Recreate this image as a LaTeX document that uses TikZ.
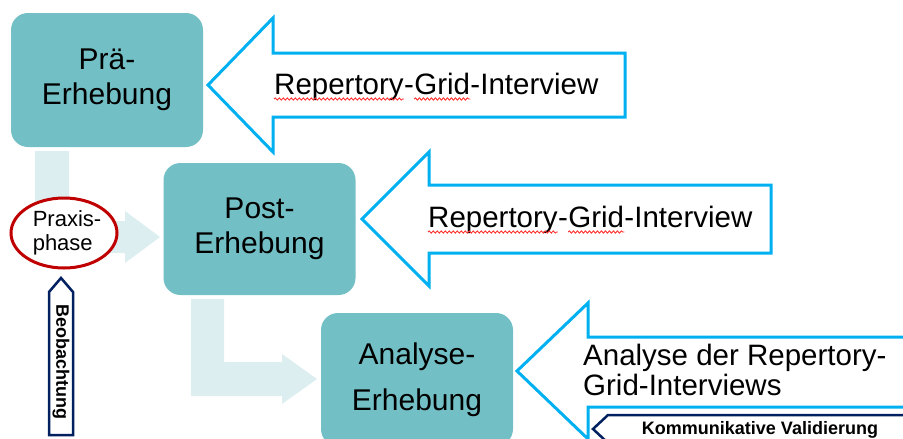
\documentclass[tikz,border=0pt]{standalone}
\usepackage{fontspec}
\setmainfont{Liberation Sans}
\usetikzlibrary{shapes.geometric,decorations.pathmorphing}

\definecolor{boxteal}{HTML}{72BFC5}
\definecolor{flowpale}{HTML}{DDEEF1}
\definecolor{gridcyan}{HTML}{00B0F0}
\definecolor{obsnavy}{HTML}{002060}
\definecolor{praxred}{HTML}{C00000}
\definecolor{spellred}{HTML}{FF3030}

\tikzset{
  stagebox/.style={fill=boxteal, rounded corners=17pt, minimum width=192pt,
    minimum height=134pt, align=center, font=\fontsize{30}{35}\selectfont},
  paleflow/.style={fill=flowpale},
  bigarrow/.style={draw=gridcyan, line width=3pt, fill=white},
  navyarrow/.style={draw=obsnavy, line width=2.5pt, fill=white},
  gridtext/.style={font=\fontsize{29.5}{30}\selectfont, inner sep=0pt, anchor=base west},
  boldtext/.style={font=\bfseries\fontsize{18}{20}\selectfont, inner sep=0pt},
  spellwave/.style={draw=spellred, line width=0.9pt, decorate,
    decoration={snake, amplitude=1.1pt, segment length=4pt}}
}

\begin{document}
\begin{tikzpicture}[x=1pt,y=-1pt]
\clip (0,0) rectangle (903,439);

% pale flow arrows between the stages
\fill[paleflow] (35,151) -- (69,151) -- (69,221) -- (125,221) -- (125,211) -- (160,237)
  -- (125,263) -- (125,253) -- (35,253) -- cycle;
\fill[paleflow] (191,299) -- (224,299) -- (224,362) -- (282,362) -- (282,354) -- (317,379)
  -- (282,404) -- (282,396) -- (191,396) -- cycle;

\node[stagebox] (pre) at (107,80) {Prä-\\Erhebung};
\node[stagebox, minimum height=132pt] (post) at (259.5,229) {Post-\\Erhebung};
\node[stagebox, minimum height=133pt, font=\fontsize{30}{46}\selectfont] (analyse) at (417,379.5) {Analyse-\\Erhebung};

% cyan block arrows
\draw[bigarrow] (208,85) -- (273,18) -- (273,53) -- (625,53) -- (625,117) -- (273,117) -- (273,152) -- cycle;
\draw[bigarrow] (362,219) -- (429,152) -- (429,185) -- (771,185) -- (771,253) -- (429,253) -- (429,286) -- cycle;
\draw[bigarrow] (517,371) -- (588,303) -- (588,337) -- (930,337) -- (930,407) -- (588,407) -- (588,439) -- cycle;

% interview labels, split so the spell marks can follow the words
\foreach \rg/\px/\py in {rg1/274/94, rg2/428/227}{
  \node[gridtext] (\rg rep) at (\px,\py) {Repertory};
  \node[gridtext] (\rg dash) at (\rg rep.base east) {-};
  \node[gridtext] (\rg grid) at (\rg dash.base east) {Grid};
  \node[gridtext] (\rg rest) at (\rg grid.base east) {-Interview};
  \draw[spellwave] ([yshift=-5pt]\rg rep.base west) -- ([yshift=-5pt]\rg rep.base east);
  \draw[spellwave] ([yshift=-5pt]\rg grid.base west) -- ([yshift=-5pt]\rg grid.base east);
}
\node[gridtext, anchor=west, align=left] (rg3) at (583,370) {Analyse der Repertory-\\Grid-Interviews};

% Praxisphase
\node[ellipse, draw=praxred, line width=3pt, fill=white, minimum width=106pt, minimum height=70pt] (praxis) at (64,233) {};
\node[align=left, inner sep=0pt, font=\fontsize{22}{24}\selectfont] (praxtext) at (67,233) {Praxis-\\phase};

% navy arrows
\draw[navyarrow] (61,278) -- (73,292) -- (73,435) -- (49,435) -- (49,292) -- cycle;
\node[boldtext, rotate=-90] (obs) at (61,362) {Beobachtung};
\draw[navyarrow] (593,429) -- (608,415) -- (930,415) -- (930,443) -- (608,443) -- cycle;
\node[boldtext, anchor=base] (valid) at (760,434) {Kommunikative Validierung};

\end{tikzpicture}
\end{document}
